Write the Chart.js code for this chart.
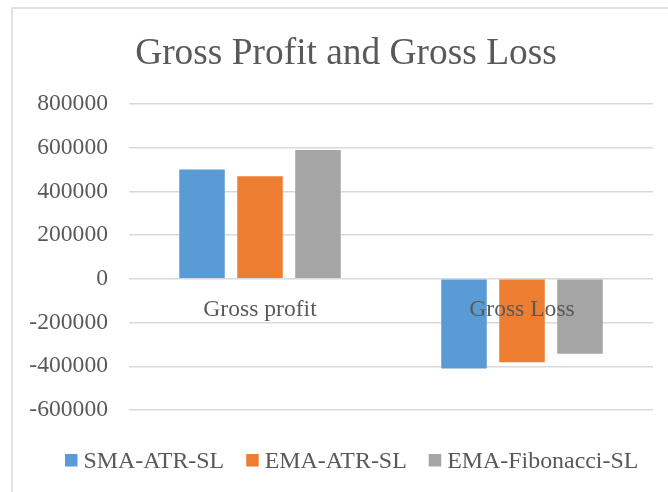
<!DOCTYPE html>
<html>
<head>
<meta charset="utf-8">
<script src="https://cdn.jsdelivr.net/npm/chart.js@4.4.1/dist/chart.umd.min.js"></script>
<style>
  html, body { margin: 0; padding: 0; background: #fff; }
</style>
</head>
<body>
<canvas id="chart" width="668" height="492"></canvas>
<script>
// ---- data ----
const categories = ["Gross profit", "Gross Loss"];
const seriesNames = ["SMA-ATR-SL", "EMA-ATR-SL", "EMA-Fibonacci-SL"];
const smaAtrSl = [500000, -410000];
const emaAtrSl = [470000, -381000];
const emaFibSl = [590000, -343000];
const yTicks = [-600000, -400000, -200000, 0, 200000, 400000, 600000, 800000];
const chartTitle = "Gross Profit and Gross Loss";

const colors = ["#5B9BD5", "#ED7D31", "#A5A5A5"];
const textColor = "#595959";
const gridColor = "#D9D9D9";
const serif = "'Liberation Serif', 'Times New Roman', serif";

// light frame round the whole chart + the title, like the Excel chart area
const framePlugin = {
  id: "frame",
  beforeDraw(chart) {
    const ctx = chart.ctx;
    ctx.save();
    ctx.strokeStyle = gridColor;
    ctx.lineWidth = 1.5;
    ctx.strokeRect(12, 8, chart.width + 20, chart.height + 20);
    ctx.fillStyle = textColor;
    ctx.font = "37.4px " + serif;
    ctx.textAlign = "center";
    ctx.textBaseline = "alphabetic";
    ctx.fillText(chartTitle, 346, 63.5);
    ctx.restore();
  }
};

// legend drawn by hand so the box/text spacing matches Excel
const legendPlugin = {
  id: "xlLegend",
  afterDraw(chart) {
    const ctx = chart.ctx;
    const box = 12.5, gap = 6, itemGap = 22;
    let x = 65;
    const baseY = 467.5;
    ctx.save();
    ctx.font = "23.9px " + serif;
    ctx.textBaseline = "alphabetic";
    ctx.textAlign = "left";
    chart.data.datasets.forEach(ds => {
      ctx.fillStyle = ds.backgroundColor;
      ctx.fillRect(x, 454, box, box);
      x += box + gap;
      ctx.fillStyle = textColor;
      ctx.fillText(ds.label, x, baseY);
      x += ctx.measureText(ds.label).width + itemGap;
    });
    ctx.restore();
  }
};

const datasets = [smaAtrSl, emaAtrSl, emaFibSl].map((vals, i) => ({
  label: seriesNames[i],
  data: vals,
  backgroundColor: colors[i],
  borderWidth: 0,
  categoryPercentage: 0.664,
  barPercentage: 0.785
}));

new Chart(document.getElementById("chart"), {
  type: "bar",
  data: { labels: categories, datasets: datasets },
  options: {
    responsive: false,
    animation: false,
    devicePixelRatio: 1,
    layout: { padding: { left: 20, right: 15, top: 104, bottom: 82 } },
    plugins: {
      legend: { display: false },
      tooltip: { enabled: false },
      title: { display: false }
    },
    scales: {
      x: {
        position: { y: 0 },
        grid: { display: false },
        border: { display: false },
        ticks: {
          z: 1,
          color: textColor,
          font: { family: serif, size: 23.6 },
          padding: 9,
          maxRotation: 0
        }
      },
      y: {
        min: yTicks[0],
        max: yTicks[yTicks.length - 1],
        afterFit(scale) { scale.width = 109; },
        afterBuildTicks(scale) { scale.ticks = yTicks.map(v => ({ value: v })); },
        grid: { color: gridColor, lineWidth: 1.5, drawTicks: false },
        border: { display: false },
        ticks: {
          color: textColor,
          font: { family: serif, size: 23.6 },
          padding: 21,
          callback: v => String(v)
        }
      }
    }
  },
  plugins: [framePlugin, legendPlugin]
});
</script>
</body>
</html>
